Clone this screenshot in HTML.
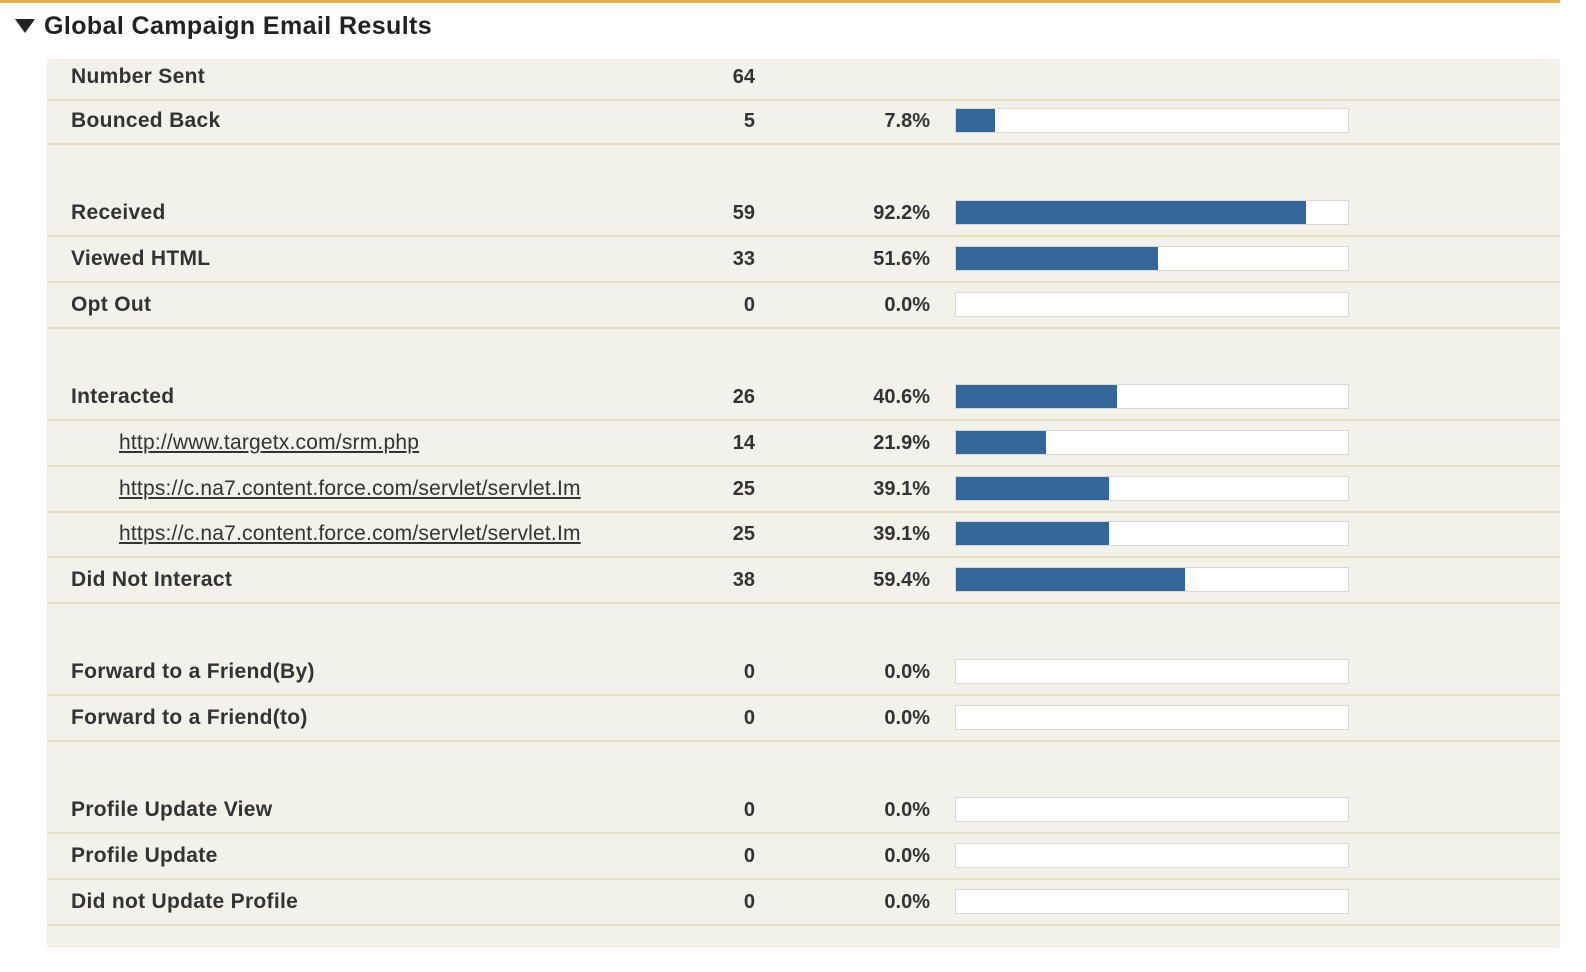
<!DOCTYPE html>
<html><head><style>
body{margin:0;width:1586px;height:972px;background:#fff;font-family:"Liberation Sans",Arial,sans-serif;color:#333;position:relative;overflow:hidden}
.top{position:absolute;left:0;top:0;width:1560px;height:3px;background:#e8b04a}
.tri{position:absolute;left:15px;top:19px;width:0;height:0;border-left:10px solid transparent;border-right:10px solid transparent;border-top:14px solid #222}
.title{position:absolute;left:44px;top:12px;font-size:25px;letter-spacing:0.4px;font-weight:bold;color:#222;line-height:28px}
.panel{position:absolute;left:47px;top:59px;width:1513px;height:889px;background:#f2f1ea}
.sep{position:absolute;left:47px;width:1513px;height:2px;background:#e6e0c0}
.lab{position:absolute;left:71px;font-size:21px;letter-spacing:0.3px;font-weight:bold;line-height:24px;white-space:nowrap}
.lnk{position:absolute;left:119px;font-size:21px;letter-spacing:0.2px;text-decoration:underline;line-height:24px;white-space:nowrap}
.n{position:absolute;left:655px;width:100px;text-align:right;font-size:20px;font-weight:bold;line-height:24px}
.p{position:absolute;left:830px;width:100px;text-align:right;font-size:20px;font-weight:bold;line-height:24px}
.bar{position:absolute;left:955px;width:392px;height:23px;background:#fff;border:1px solid #d8d8d8}
.bar i{display:block;height:23px;background:#336699}
</style></head><body>
<div class="top"></div>
<div class="tri"></div>
<div class="title">Global Campaign Email Results</div>
<div class="panel"></div>
<div id="c"></div>
<script>
var rows=[
["Number Sent","64",null,null,77,0],
["Bounced Back","5","7.8%",39,121,0],
["Received","59","92.2%",350,213,0],
["Viewed HTML","33","51.6%",202,259,0],
["Opt Out","0","0.0%",0,305,0],
["Interacted","26","40.6%",161,397,0],
["http://www.targetx.com/srm.php","14","21.9%",90,443,1],
["https://c.na7.content.force.com/servlet/servlet.Im","25","39.1%",153,489,1],
["https://c.na7.content.force.com/servlet/servlet.Im","25","39.1%",153,534,1],
["Did Not Interact","38","59.4%",229,580,0],
["Forward to a Friend(By)","0","0.0%",0,672,0],
["Forward to a Friend(to)","0","0.0%",0,718,0],
["Profile Update View","0","0.0%",0,810,0],
["Profile Update","0","0.0%",0,856,0],
["Did not Update Profile","0","0.0%",0,902,0]];
var h="";
rows.forEach(function(r){var y=r[4];
h+='<div class="'+(r[5]?'lnk':'lab')+'" style="top:'+(y-12)+'px">'+r[0]+'</div>';
h+='<div class="n" style="top:'+(y-12)+'px">'+r[1]+'</div>';
if(r[2]){h+='<div class="p" style="top:'+(y-12)+'px">'+r[2]+'</div>';
h+='<div class="bar" style="top:'+(y-13)+'px"><i style="width:'+r[3]+'px"></i></div>';}
h+='<div class="sep" style="top:'+(y+22)+'px"></div>';});
document.getElementById("c").innerHTML=h;
</script>
</body></html>
